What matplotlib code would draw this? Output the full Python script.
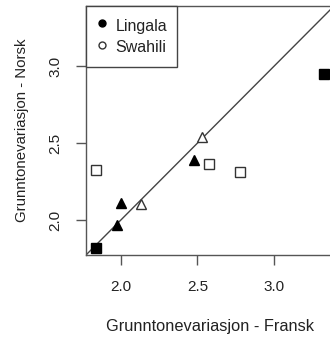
"""Grunntonevariasjon: fransk vs norsk, Lingala and Swahili speakers."""
import matplotlib
matplotlib.use("Agg")
import matplotlib.pyplot as plt
from matplotlib.lines import Line2D

plt.rcParams["font.family"] = ["Liberation Sans", "DejaVu Sans"]

# Lingala (filled markers)
lingala_fransk = [1.838, 3.325, 2.005, 1.976, 2.480]
lingala_norsk = [1.822, 2.947, 2.112, 1.972, 2.390]
lingala_shape = ["s", "s", "^", "^", "^"]

# Swahili (open markers)
swahili_fransk = [1.842, 2.578, 2.777, 2.130, 2.528]
swahili_norsk = [2.329, 2.366, 2.316, 2.103, 2.541]
swahili_shape = ["s", "s", "s", "^", "^"]

ticks = [2.0, 2.5, 3.0]
tick_labels = ["2.0", "2.5", "3.0"]
lims = (1.775, 3.39)

ink = "#222222"
axis_col = "#555555"

fig = plt.figure(figsize=(3.3, 3.37), dpi=100)
ax = fig.add_axes([0.2606, 0.2433, 0.7515, 0.7389])

# identity line
ax.plot(lims, lims, color="#444444", lw=1.0, zorder=1)

sizes = {"s": 6.6, "^": 7.2}
for x, y, m in zip(lingala_fransk, lingala_norsk, lingala_shape):
    ax.plot(x, y, marker=m, ms=sizes[m], color="black", mec="black",
            ls="none", zorder=3, clip_on=False)
for x, y, m in zip(swahili_fransk, swahili_norsk, swahili_shape):
    ax.plot(x, y, marker=m, ms=sizes[m], mfc="white", mec="#333333",
            mew=1.0, ls="none", zorder=3, clip_on=False)

ax.set_xlim(lims)
ax.set_ylim(lims)
ax.set_xticks(ticks)
ax.set_xticklabels(tick_labels)
ax.set_yticks(ticks)
ax.set_yticklabels(tick_labels, rotation=90, va="center")
ax.tick_params(direction="out", length=7, width=1.0, color=axis_col,
               labelsize=11, labelcolor=ink)
ax.tick_params(axis="x", pad=11)
ax.tick_params(axis="y", pad=10)
for sp in ax.spines.values():
    sp.set_color(axis_col)
    sp.set_linewidth(1.0)

ax.set_xlabel("Grunntonevariasjon - Fransk", fontsize=11.8, color=ink,
              labelpad=18)
ax.set_ylabel("Grunntonevariasjon - Norsk", fontsize=10.8, color=ink,
              labelpad=14)

handles = [
    Line2D([], [], marker="o", ls="none", ms=5, color="black"),
    Line2D([], [], marker="o", ls="none", ms=5, mfc="white", mec="#333333"),
]
leg = ax.legend(handles, ["Lingala", "Swahili"], loc="upper left",
                bbox_to_anchor=(0, 1), borderaxespad=0, fontsize=11.5,
                fancybox=False, framealpha=1, edgecolor="#444444",
                handlelength=0.8, handletextpad=0.45, borderpad=0.6,
                handleheight=1.6, labelspacing=0.05)
leg.get_frame().set_linewidth(1.0)
for t in leg.get_texts():
    t.set_color(ink)

fig.savefig("out.png", dpi=100)
